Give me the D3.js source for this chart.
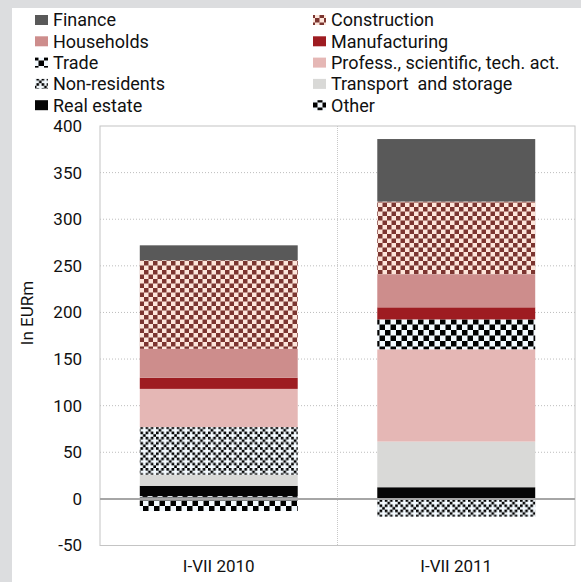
<!DOCTYPE html>
<html><head><meta charset="utf-8">
<script src="https://cdn.jsdelivr.net/npm/d3@7"></script>
<style>body{margin:0;background:#dcdddf;}svg{display:block;}</style>
</head><body>
<svg id="c" width="581" height="582"></svg>
<script>
const categories = ["I-VII 2010", "I-VII 2011"];
const seriesNames = ["Other", "Real estate", "Transport  and storage", "Non-residents", "Profess., scientific, tech. act.", "Trade", "Manufacturing", "Households", "Construction", "Finance"];
const other = [3, 0];
const realEstate = [11, 12.5];
const transport = [12, 49];
const nonResidents = [51, -19];
const profess = [41, 99];
const trade = [-13, 32];
const manufacturing = [12, 13];
const households = [31, 35.5];
const construction = [95, 78];
const finance = [16, 67];
const yTicks = [-50, 0, 50, 100, 150, 200, 250, 300, 350, 400];
const legendOrder = ["Finance", "Construction", "Households", "Manufacturing", "Trade", "Profess., scientific, tech. act.", "Non-residents", "Transport  and storage", "Real estate", "Other"];

const valuesList = [other, realEstate, transport, nonResidents, profess, trade, manufacturing, households, construction, finance];
const rows = categories.map((c, i) => {
  const r = {cat: c};
  seriesNames.forEach((s, k) => r[s] = valuesList[k][i]);
  return r;
});

const svg = d3.select("#c");
const defs = svg.append("defs");
function checker(id, size, fg, bg) {
  const p = defs.append("pattern").attr("id", id).attr("patternUnits", "userSpaceOnUse")
    .attr("width", size * 2).attr("height", size * 2);
  p.append("rect").attr("width", size * 2).attr("height", size * 2).attr("fill", bg);
  p.append("rect").attr("width", size).attr("height", size).attr("fill", fg);
  p.append("rect").attr("x", size).attr("y", size).attr("width", size).attr("height", size).attr("fill", fg);
}
function bitmap(id, cell, grid, fg, bg) {
  const n = grid.length, m = grid[0].length;
  const p = defs.append("pattern").attr("id", id).attr("patternUnits", "userSpaceOnUse")
    .attr("width", m * cell).attr("height", n * cell);
  p.append("rect").attr("width", m * cell).attr("height", n * cell).attr("fill", bg);
  grid.forEach((row, y) => row.split("").forEach((ch, x) => {
    if (ch === "1") p.append("rect").attr("x", x * cell).attr("y", y * cell).attr("width", cell).attr("height", cell).attr("fill", fg);
  }));
}
checker("pConst", 4.5, "#7b3530", "#fde5da");
checker("pTrade", 5.5, "#000", "#f2f8fd");
bitmap("pNonres2", 2.6, ["1010", "0100", "1010", "0001"], "#000", "#f2f8fd");
bitmap("pOther", 2.5, ["1001", "0110", "0110", "1001"], "#000", "#f2f8fd");

const fills = {
  "Finance": "#595959",
  "Construction": "url(#pConst)",
  "Households": "#cd8d8c",
  "Manufacturing": "#9e1c21",
  "Trade": "url(#pTrade)",
  "Profess., scientific, tech. act.": "#e5b7b5",
  "Non-residents": "url(#pNonres2)",
  "Transport  and storage": "#d9d9d7",
  "Real estate": "#050505",
  "Other": "url(#pOther)"
};

// white panel
svg.append("rect").attr("x", 12).attr("y", 8).attr("width", 569).attr("height", 574).attr("fill", "#fff");

const L = 100, R = 575, T = 126, B = 545.5;
const y = d3.scaleLinear().domain([-50, 400]).range([B, T]);
const xb = d3.scaleBand().domain(categories).range([L, R]).padding(0);
const barW = xb.bandwidth() * 0.665;

// gridlines
const g = svg.append("g");
g.selectAll("line.grid").data(yTicks.filter(t => t !== 0 && t !== -50 && t !== 400)).join("line")
  .attr("x1", L).attr("x2", R).attr("y1", d => y(d)).attr("y2", d => y(d))
  .attr("stroke", "#bdbdbd").attr("stroke-width", 1).attr("stroke-dasharray", "1,2");
g.append("line").attr("x1", (L + R) / 2).attr("x2", (L + R) / 2).attr("y1", T).attr("y2", B)
  .attr("stroke", "#c8c8c8").attr("stroke-dasharray", "1,1");
g.append("rect").attr("x", L).attr("y", T).attr("width", R - L).attr("height", B - T)
  .attr("fill", "none").attr("stroke", "#c4c4c4").attr("stroke-width", 1);

// bars
const stack = d3.stack().keys(seriesNames).offset(d3.stackOffsetDiverging);
const layers = stack(rows);
svg.append("g").selectAll("g").data(layers).join("g")
  .attr("fill", d => fills[d.key])
  .selectAll("rect").data(d => d).join("rect")
  .attr("x", d => xb(d.data.cat) + (xb.bandwidth() - barW) / 2)
  .attr("width", barW)
  .attr("y", d => y(Math.max(d[0], d[1])))
  .attr("height", d => Math.abs(y(d[0]) - y(d[1])));

// zero line
svg.append("line").attr("x1", L).attr("x2", R).attr("y1", y(0)).attr("y2", y(0))
  .attr("stroke", "#a6a6a6").attr("stroke-width", 2);

const font = "Roboto, sans-serif";
// y axis
const yAxis = d3.axisLeft(y).tickValues(yTicks).tickSize(0).tickPadding(18).tickFormat(d => String(d));
const ya = svg.append("g").attr("transform", `translate(${L},0)`).call(yAxis);
ya.select(".domain").remove();
ya.selectAll("text").attr("font-family", font).attr("font-size", 17).attr("fill", "#111");

svg.append("text").attr("transform", `translate(33,313) rotate(-90)`)
  .attr("text-anchor", "middle").attr("font-family", font).attr("font-size", 17).attr("fill", "#111")
  .text("In EURm");

// x axis
const xAxis = d3.axisBottom(xb).tickSize(0).tickPadding(14);
const xa = svg.append("g").attr("transform", `translate(0,${B})`).call(xAxis);
xa.select(".domain").remove();
xa.selectAll("text").attr("font-family", font).attr("font-size", 17).attr("fill", "#111");

// legend
const leg = svg.append("g");
legendOrder.forEach((name, i) => {
  const col = i % 2, row = Math.floor(i / 2);
  const lx = col === 0 ? 35 : 313, ly = 20 + row * 21.3;
  leg.append("rect").attr("x", lx).attr("y", ly - 5).attr("width", 13).attr("height", 10).attr("fill", fills[name]);
  leg.append("text").attr("x", lx + 18).attr("y", ly).attr("dy", "0.35em")
    .attr("font-family", font).attr("font-size", 18).attr("fill", "#111")
    .style("white-space", "pre").text(name);
});
</script>
</body></html>
